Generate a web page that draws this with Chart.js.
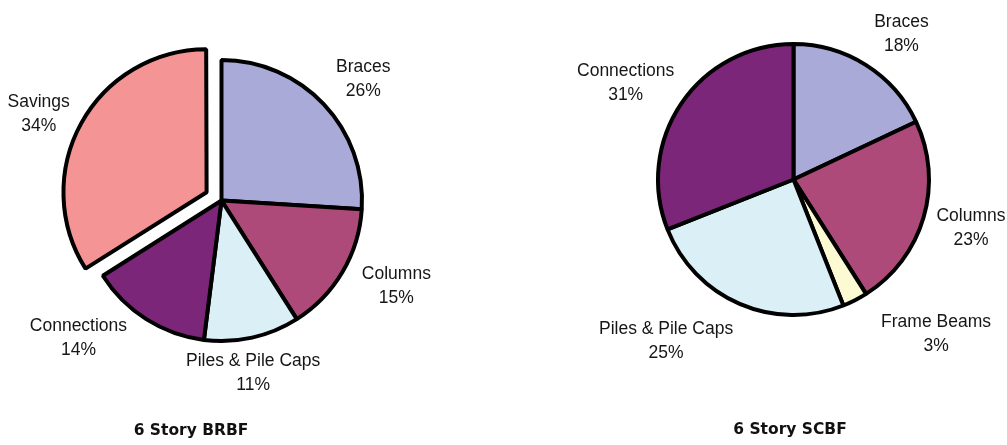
<!DOCTYPE html>
<html>
<head>
<meta charset="utf-8">
<script src="https://cdn.jsdelivr.net/npm/chart.js"></script>
<style>
html, body { margin: 0; padding: 0; background: #fff; }
#wrap { position: relative; width: 1007px; height: 445px; overflow: hidden; }
.box { position: absolute; top: 0; height: 445px; }
.title { position: absolute; font-family: "DejaVu Sans", sans-serif; font-weight: bold; font-size: 15.5px; color: #111; transform: translateX(-50%); white-space: nowrap; }
</style>
</head>
<body>
<div id="wrap">
  <div class="box" style="left:0;width:503px"><canvas id="brbf"></canvas></div>
  <div class="box" style="left:503px;width:504px"><canvas id="scbf"></canvas></div>
  <div class="title" style="left:191px;top:421px">6 Story BRBF</div>
  <div class="title" style="left:790px;top:420px">6 Story SCBF</div>
</div>
<script>
// 6 Story BRBF
var brbfLabels = ['Braces', 'Columns', 'Piles & Pile Caps', 'Connections', 'Savings'];
var brbfValues = [26, 15, 11, 14, 34];
var brbfColors = ['#aaaad8', '#ad4a79', '#daf0f6', '#7b2679', '#f59494'];

// 6 Story SCBF
var scbfLabels = ['Braces', 'Columns', 'Frame Beams', 'Piles & Pile Caps', 'Connections'];
var scbfValues = [18, 23, 3, 25, 31];
var scbfColors = ['#aaaad8', '#ad4a79', '#fbfad3', '#daf0f6', '#7b2679'];

// labels outside the pie, two lines: name + percent
var outsideLabels = {
    id: 'outsideLabels',
    afterDatasetsDraw: function(chart, args, opts) {
        var ctx = chart.ctx;
        var meta = chart.getDatasetMeta(0);
        var ds = chart.data.datasets[0];
        var lh = opts.lineHeight;
        var nudge = opts.nudge || [];
        ctx.save();
        ctx.font = opts.size + 'px "Liberation Sans", Arial, sans-serif';
        ctx.fillStyle = '#161616';
        ctx.textAlign = 'center';
        ctx.textBaseline = 'middle';
        meta.data.forEach(function(arc, i) {
            var p = arc.getProps(['x', 'y', 'startAngle', 'endAngle', 'outerRadius'], true);
            var mid = (p.startAngle + p.endAngle) / 2;
            var off = (arc.options.offset || 0) / 4; // chart.js draws offset/4
            var cos = Math.cos(mid), sin = Math.sin(mid);
            var lines = [chart.data.labels[i], ds.data[i] + '%'];
            var w = Math.max(ctx.measureText(lines[0]).width, ctx.measureText(lines[1]).width);
            var h = lh * 2;
            var d = p.outerRadius + off + opts.gap;
            var n = nudge[i] || [0, 0];
            var cx = p.x + cos * d + cos * w / 2 + n[0];
            var cy = p.y + sin * d + sin * h / 2 + n[1];
            ctx.fillText(lines[0], cx, cy - lh / 2);
            ctx.fillText(lines[1], cx, cy + lh / 2);
        });
        ctx.restore();
    }
};

function makePie(id, labels, values, colors, padding, offsetFn, nudge) {
    return new Chart(document.getElementById(id), {
        type: 'pie',
        data: {
            labels: labels,
            datasets: [{
                data: values,
                backgroundColor: colors,
                borderColor: '#000',
                borderWidth: 4,
                hoverBorderWidth: 4,
                hoverOffset: 0,
                offset: offsetFn
            }]
        },
        options: {
            responsive: true,
            maintainAspectRatio: false,
            animation: false,
            events: [],
            layout: { padding: padding },
            plugins: {
                legend: { display: false },
                tooltip: { enabled: false },
                outsideLabels: { size: 17.5, lineHeight: 24, gap: 20, nudge: nudge }
            }
        },
        plugins: [outsideLabels]
    });
}

// Savings slice pulled out of the pie
makePie('brbf', brbfLabels, brbfValues, brbfColors,
    { left: 45, right: 105, top: 24, bottom: 68 },
    function(c) { return brbfLabels[c.dataIndex] === 'Savings' ? 68 : 0; },
    [[5, 5], [7, -8], [-18, -7], [-31, -18], [0, 11]]);

makePie('scbf', scbfLabels, scbfValues, scbfColors,
    { left: 153, right: 76, top: 42, bottom: 128 },
    0,
    [[10, 6], [-5, -1], [47, -5], [-39, -3], [1, 5]]);
</script>
</body>
</html>
